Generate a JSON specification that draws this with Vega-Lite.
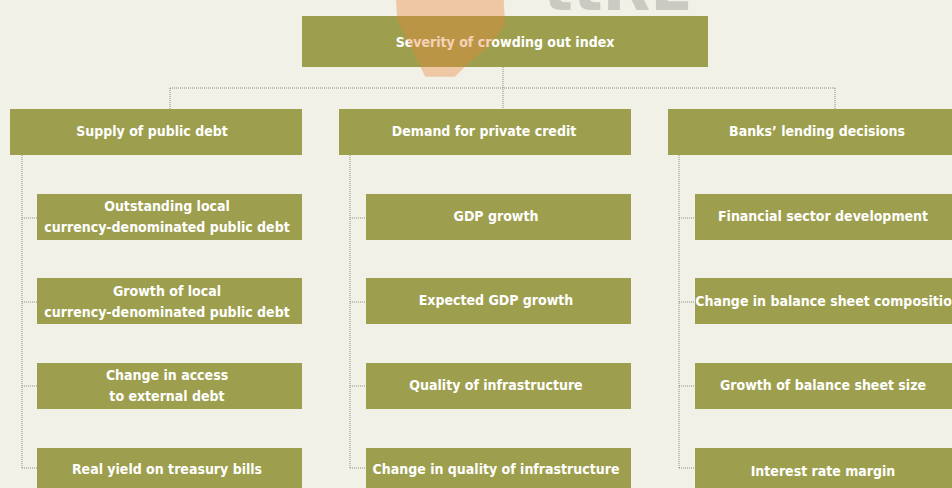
{
  "$schema": "https://vega.github.io/schema/vega-lite/v6.json",
  "autosize": {"type": "none"},
  "width": 952,
  "height": 488,
  "padding": 0,
  "background": "#f2f1e7",
  "config": {"view": {"stroke": null}},
  "datasets": {
    "logo": [
      {"label": "ttRE", "x": 618, "y": 10, "sx": 450, "sy": 35}
    ],
    "links": [
      {"x": 170, "x2": 835, "y": 88, "y2": 88},
      {"x": 503, "x2": 503, "y": 67, "y2": 109},
      {"x": 170, "x2": 170, "y": 88, "y2": 109},
      {"x": 835, "x2": 835, "y": 88, "y2": 109},
      {"x": 22, "x2": 22, "y": 155, "y2": 468},
      {"x": 350, "x2": 350, "y": 155, "y2": 468},
      {"x": 679, "x2": 679, "y": 155, "y2": 468},
      {"x": 22, "x2": 37, "y": 218, "y2": 218},
      {"x": 22, "x2": 37, "y": 302, "y2": 302},
      {"x": 22, "x2": 37, "y": 386, "y2": 386},
      {"x": 22, "x2": 37, "y": 468, "y2": 468},
      {"x": 350, "x2": 366, "y": 218, "y2": 218},
      {"x": 350, "x2": 366, "y": 302, "y2": 302},
      {"x": 350, "x2": 366, "y": 386, "y2": 386},
      {"x": 350, "x2": 366, "y": 468, "y2": 468},
      {"x": 679, "x2": 695, "y": 218, "y2": 218},
      {"x": 679, "x2": 695, "y": 302, "y2": 302},
      {"x": 679, "x2": 695, "y": 386, "y2": 386},
      {"x": 679, "x2": 695, "y": 468, "y2": 468}
    ],
    "boxes": [
      {"label": "Severity of crowding out index", "x": 302, "x2": 708, "y": 16, "y2": 67, "cx": 505, "cy": 43},
      {"label": "Supply of public debt", "x": 10, "x2": 302, "y": 109, "y2": 155, "cx": 152, "cy": 132},
      {"label": "Demand for private credit", "x": 339, "x2": 631, "y": 109, "y2": 155, "cx": 484, "cy": 132},
      {"label": "Banks’ lending decisions", "x": 668, "x2": 966, "y": 109, "y2": 155, "cx": 817, "cy": 132},
      {"label": "Outstanding local\ncurrency-denominated public debt", "x": 37, "x2": 302, "y": 194, "y2": 240, "cx": 167, "cy": 207},
      {"label": "Growth of local\ncurrency-denominated public debt", "x": 37, "x2": 302, "y": 278, "y2": 324, "cx": 167, "cy": 292},
      {"label": "Change in access\nto external debt", "x": 37, "x2": 302, "y": 363, "y2": 409, "cx": 167, "cy": 376},
      {"label": "Real yield on treasury bills", "x": 37, "x2": 302, "y": 448, "y2": 494, "cx": 167, "cy": 470},
      {"label": "GDP growth", "x": 366, "x2": 631, "y": 194, "y2": 240, "cx": 496, "cy": 217},
      {"label": "Expected GDP growth", "x": 366, "x2": 631, "y": 278, "y2": 324, "cx": 496, "cy": 301},
      {"label": "Quality of infrastructure", "x": 366, "x2": 631, "y": 363, "y2": 409, "cx": 496, "cy": 386},
      {"label": "Change in quality of infrastructure", "x": 366, "x2": 631, "y": 448, "y2": 494, "cx": 496, "cy": 470},
      {"label": "Financial sector development", "x": 695, "x2": 966, "y": 194, "y2": 240, "cx": 823, "cy": 217},
      {"label": "Change in balance sheet composition", "x": 695, "x2": 966, "y": 278, "y2": 324, "cx": 828, "cy": 302},
      {"label": "Growth of balance sheet size", "x": 695, "x2": 966, "y": 363, "y2": 409, "cx": 823, "cy": 386},
      {"label": "Interest rate margin", "x": 695, "x2": 966, "y": 448, "y2": 494, "cx": 823, "cy": 472}
    ]
  },
  "layer": [
    {
      "data": {"name": "logo"},
      "mark": {"type": "text", "color": "#cacac3", "font": "'DejaVu Sans', sans-serif", "fontWeight": "bold", "fontSize": 62, "align": "center", "baseline": "alphabetic", "clip": true},
      "encoding": {
        "x": {"field": "x", "type": "quantitative", "scale": {"domain": [0, 952], "nice": false, "zero": false}, "axis": null},
        "y": {"field": "y", "type": "quantitative", "scale": {"domain": [488, 0], "nice": false, "zero": false}, "axis": null},
        "text": {"field": "label"}
      }
    },
    {
      "data": {"name": "links"},
      "mark": {"type": "rule", "stroke": "#8a8a80", "strokeWidth": 1, "strokeDash": [1, 1]},
      "encoding": {
        "x": {"field": "x", "type": "quantitative", "scale": {"domain": [0, 952], "nice": false, "zero": false}, "axis": null},
        "x2": {"field": "x2"},
        "y": {"field": "y", "type": "quantitative", "scale": {"domain": [488, 0], "nice": false, "zero": false}, "axis": null},
        "y2": {"field": "y2"}
      }
    },
    {
      "data": {"name": "boxes"},
      "mark": {"type": "rect", "fill": "#9e9f4e", "clip": true},
      "encoding": {
        "x": {"field": "x", "type": "quantitative", "scale": {"domain": [0, 952], "nice": false, "zero": false}, "axis": null},
        "x2": {"field": "x2"},
        "y": {"field": "y", "type": "quantitative", "scale": {"domain": [488, 0], "nice": false, "zero": false}, "axis": null},
        "y2": {"field": "y2"}
      }
    },
    {
      "data": {"name": "boxes"},
      "mark": {"type": "text", "color": "#ffffff", "font": "'DejaVu Sans Condensed', Roboto, sans-serif", "fontWeight": "bold", "fontSize": 14, "lineBreak": "\n", "lineHeight": 21, "align": "center", "baseline": "middle", "clip": true},
      "encoding": {
        "x": {"field": "cx", "type": "quantitative", "scale": {"domain": [0, 952], "nice": false, "zero": false}, "axis": null},
        "y": {"field": "cy", "type": "quantitative", "scale": {"domain": [488, 0], "nice": false, "zero": false}, "axis": null},
        "text": {"field": "label"}
      }
    },
    {
      "data": {"name": "logo"},
      "mark": {"type": "point", "filled": true, "fill": "#e8863a", "opacity": 0.38, "strokeWidth": 0, "size": 12100, "clip": true, "shape": "M -1 -1 L 0.96 -1 L 1 -0.18 L 0.73 0.18 L 0.36 0.49 L 0.09 0.76 L -0.45 0.76 L -0.55 0.55 L -0.73 0.18 L -0.96 -0.27 Z"},
      "encoding": {
        "x": {"field": "sx", "type": "quantitative", "scale": {"domain": [0, 952], "nice": false, "zero": false}, "axis": null},
        "y": {"field": "sy", "type": "quantitative", "scale": {"domain": [488, 0], "nice": false, "zero": false}, "axis": null}
      }
    }
  ]
}
